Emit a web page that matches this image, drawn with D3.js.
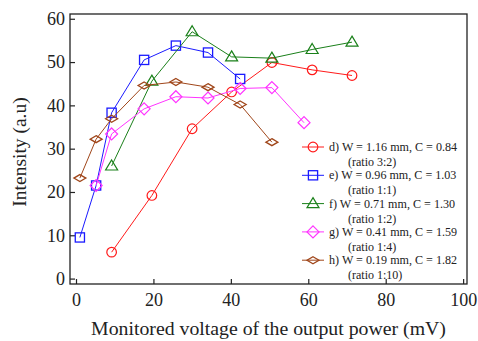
<!DOCTYPE html>
<html><head><meta charset="utf-8">
<script src="https://cdn.jsdelivr.net/npm/d3@7"></script>
<style>body{margin:0;background:#fff}svg{display:block}</style>
</head><body>
<svg id="c" width="478" height="341"></svg>
<script>
const xTicks = [0, 20, 40, 60, 80, 100];
const yTicks = [0, 10, 20, 30, 40, 50, 60];
const labels = ["d) W = 1.16 mm, C = 0.84", "e) W = 0.96 mm, C = 1.03", "f) W = 0.71 mm, C = 1.30", "g) W = 0.41 mm, C = 1.59", "h) W = 0.19 mm, C = 1.82"];
const subLabels = ["(ratio 3:2)", "(ratio 1:1)", "(ratio 1:2)", "(ratio 1:4)", "(ratio 1:10)"];
const colors = ["#ff1a1a", "#1a1aff", "#1a801a", "#ff33ff", "#a0461a"];
const markers = ["circle", "square", "triangle", "diamond", "flatdiamond"];

const dX = [9.2, 19.6, 30.0, 40.2, 50.6, 61.0, 71.3];
const dY = [6.1, 19.2, 34.6, 43.1, 49.9, 48.2, 46.9];
const eX = [1.0, 5.2, 9.2, 17.6, 25.8, 34.1, 42.4];
const eY = [9.5, 21.5, 38.3, 50.5, 53.8, 52.2, 46.1];
const fX = [9.2, 19.6, 30.0, 40.2, 50.6, 61.0, 71.3];
const fY = [26.0, 45.6, 57.0, 51.2, 50.9, 52.9, 54.6];
const gX = [5.2, 9.2, 17.6, 25.8, 34.1, 42.4, 50.6, 58.9];
const gY = [21.5, 33.4, 39.2, 42.0, 41.7, 43.9, 44.1, 36.0];
const hX = [1.0, 5.2, 9.2, 17.6, 25.8, 34.1, 42.4, 50.6];
const hY = [23.2, 32.2, 36.9, 44.6, 45.4, 44.2, 40.2, 31.5];

const seriesX = [dX, eX, fX, gX, hX];
const seriesY = [dY, eY, fY, gY, hY];

const svg = d3.select("#c");
const L = 70, R = 467, T = 14, B = 284;
const x = d3.scaleLinear().domain([-1.55, 101.0]).range([L, R]);
const y = d3.scaleLinear().domain([-1.25, 61.1]).range([B, T]);
const font = "'Liberation Serif', 'Times New Roman', serif";

// frame
svg.append("rect").attr("x", L).attr("y", T).attr("width", R - L).attr("height", B - T)
  .attr("fill", "none").attr("stroke", "#222").attr("stroke-width", 1.3);

const xa = svg.append("g").attr("transform", `translate(0,${B})`)
  .call(d3.axisBottom(x).tickValues(xTicks).tickSize(-5).tickPadding(9).tickFormat(d3.format("d")));
const ya = svg.append("g").attr("transform", `translate(${L},0)`)
  .call(d3.axisLeft(y).tickValues(yTicks).tickSize(-5).tickPadding(5).tickFormat(d3.format("d")));
[xa, ya].forEach(g => {
  g.select(".domain").remove();
  g.selectAll("line").attr("stroke", "#222").attr("stroke-width", 1.2);
  g.selectAll("text").attr("font-family", font).attr("font-size", 18).attr("fill", "#222");
});

svg.append("text").attr("x", (L + R) / 2).attr("y", 335).attr("text-anchor", "middle")
  .attr("font-family", font).attr("font-size", 19.8).attr("fill", "#222")
  .text("Monitored voltage of the output power (mV)");
svg.append("text").attr("transform", `translate(26,${(T + B) / 2 + 3}) rotate(-90)`)
  .attr("text-anchor", "middle").attr("font-family", font).attr("font-size", 19.5).attr("fill", "#222")
  .text("Intensity (a.u)");

function drawMarker(g, type, cx, cy, color) {
  if (type === "circle") {
    g.append("circle").attr("cx", cx).attr("cy", cy).attr("r", 4.8)
      .attr("fill", "none").attr("stroke", color).attr("stroke-width", 1.2);
  } else if (type === "square") {
    g.append("rect").attr("x", cx - 4.6).attr("y", cy - 4.6).attr("width", 9.2).attr("height", 9.2)
      .attr("fill", "none").attr("stroke", color).attr("stroke-width", 1.3);
  } else if (type === "triangle") {
    g.append("path").attr("d", `M${cx},${cy - 6}L${cx + 6},${cy + 4}L${cx - 6},${cy + 4}Z`)
      .attr("fill", "none").attr("stroke", color).attr("stroke-width", 1.2);
  } else if (type === "diamond") {
    g.append("path").attr("d", `M${cx},${cy - 6}L${cx + 6},${cy}L${cx},${cy + 6}L${cx - 6},${cy}Z`)
      .attr("fill", "none").attr("stroke", color).attr("stroke-width", 1.2);
  } else {
    g.append("path").attr("d", `M${cx},${cy - 3.5}L${cx + 6},${cy}L${cx},${cy + 3.5}L${cx - 6},${cy}Z`)
      .attr("fill", "none").attr("stroke", color).attr("stroke-width", 1.3);
  }
}

const line = d3.line().x(d => x(d[0])).y(d => y(d[1]));
seriesX.forEach((xs, i) => {
  const pts = xs.map((v, j) => [v, seriesY[i][j]]);
  const g = svg.append("g");
  g.append("path").attr("d", line(pts)).attr("fill", "none").attr("stroke", colors[i]).attr("stroke-width", 1);
  pts.forEach(p => drawMarker(g, markers[i], x(p[0]), y(p[1]), colors[i]));
});

// legend
const lg = svg.append("g");
labels.forEach((lab, i) => {
  const yy = 147 + i * 28.3;
  lg.append("line").attr("x1", 302).attr("x2", 324).attr("y1", yy).attr("y2", yy)
    .attr("stroke", colors[i]).attr("stroke-width", 1);
  drawMarker(lg, markers[i], 313, yy, colors[i]);
  lg.append("text").attr("x", 329).attr("y", yy + 4).attr("font-family", font).attr("font-size", 12.1)
    .attr("fill", "#222").text(lab);
  lg.append("text").attr("x", 348).attr("y", yy + 19).attr("font-family", font).attr("font-size", 12)
    .attr("fill", "#222").text(subLabels[i]);
});
</script>
</body></html>
